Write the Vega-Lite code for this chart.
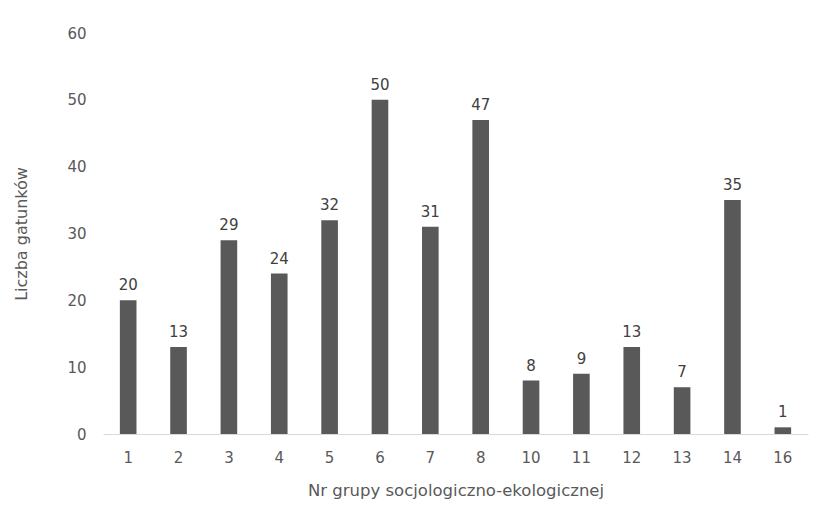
{
  "$schema": "https://vega.github.io/schema/vega-lite/v6.json",
  "width": 705,
  "height": 401,
  "autosize": {"type": "none"},
  "padding": {"left": 103, "top": 33, "right": 14, "bottom": 89},
  "background": "white",
  "config": {
    "view": {"stroke": null},
    "font": "DejaVu Sans",
    "axis": {"labelColor": "#595959", "titleColor": "#595959", "labelFont": "DejaVu Sans", "titleFont": "DejaVu Sans", "titleFontWeight": "normal"}
  },
  "data": {
    "values": [
      {"grupa": "1", "liczba": 20},
      {"grupa": "2", "liczba": 13},
      {"grupa": "3", "liczba": 29},
      {"grupa": "4", "liczba": 24},
      {"grupa": "5", "liczba": 32},
      {"grupa": "6", "liczba": 50},
      {"grupa": "7", "liczba": 31},
      {"grupa": "8", "liczba": 47},
      {"grupa": "10", "liczba": 8},
      {"grupa": "11", "liczba": 9},
      {"grupa": "12", "liczba": 13},
      {"grupa": "13", "liczba": 7},
      {"grupa": "14", "liczba": 35},
      {"grupa": "16", "liczba": 1}
    ]
  },
  "encoding": {
    "x": {
      "field": "grupa",
      "type": "ordinal",
      "sort": null,
      "scale": {"paddingInner": 0.67, "paddingOuter": 0.335},
      "axis": {
        "title": "Nr grupy socjologiczno-ekologicznej",
        "labelAngle": 0,
        "labelFontSize": 15,
        "labelPadding": 16,
        "titleFontSize": 16.5,
        "titlePadding": 17,
        "ticks": false,
        "domainColor": "#d9d9d9",
        "domainWidth": 1
      }
    },
    "y": {
      "field": "liczba",
      "type": "quantitative",
      "scale": {"domain": [0, 60]},
      "axis": {
        "title": "Liczba gatunków",
        "values": [0, 10, 20, 30, 40, 50, 60],
        "labelFontSize": 15,
        "labelPadding": 17,
        "titleFontSize": 16,
        "titlePadding": 37,
        "ticks": false,
        "domain": false,
        "grid": false
      }
    }
  },
  "layer": [
    {"mark": {"type": "bar", "color": "#595959"}},
    {
      "mark": {"type": "text", "baseline": "bottom", "dy": -7, "fontSize": 15, "color": "#404040"},
      "encoding": {"text": {"field": "liczba", "type": "quantitative"}}
    }
  ]
}
